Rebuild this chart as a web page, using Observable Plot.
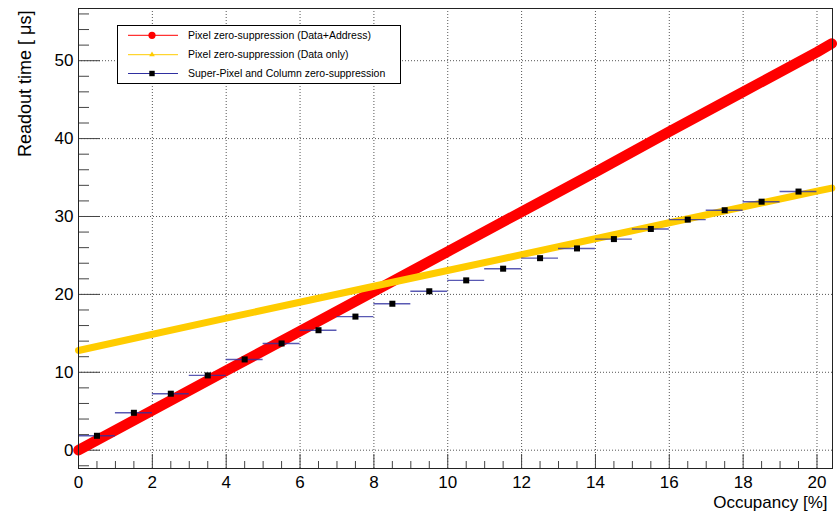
<!DOCTYPE html>
<html>
<head>
<meta charset="utf-8">
<script src="https://cdn.jsdelivr.net/npm/d3@7"></script>
<script src="https://cdn.jsdelivr.net/npm/@observablehq/plot@0.6"></script>
<style>
  html, body { margin: 0; padding: 0; background: #fff; }
  #chart { width: 838px; height: 512px; }
</style>
</head>
<body>
<div id="chart"></div>
<script>
// ---- data ----
const redOcc   = [0, 2, 4, 6, 8, 10, 12, 14, 16, 18, 20, 20.4];
const redTime  = [0, 5.1, 10.2, 15.3, 20.4, 25.5, 30.6, 35.7, 40.9, 46.0, 51.1, 52.2];
const yelOcc   = [0, 4, 8, 12, 16, 20, 20.4];
const yelTime  = [12.8, 16.95, 21.05, 25.1, 29.2, 33.25, 33.65];
const spOcc    = [0.5, 1.5, 2.5, 3.5, 4.5, 5.5, 6.5, 7.5, 8.5, 9.5, 10.5, 11.5, 12.5, 13.5, 14.5, 15.5, 16.5, 17.5, 18.5, 19.5];
const spTime   = [1.85, 4.8, 7.25, 9.6, 11.65, 13.7, 15.4, 17.15, 18.8, 20.4, 21.8, 23.3, 24.65, 25.9, 27.1, 28.4, 29.6, 30.8, 31.9, 33.2];
const spHalfWidth = 0.5;
const xMajor = [0, 2, 4, 6, 8, 10, 12, 14, 16, 18, 20];
const xMinor = d3.range(0.5, 20.01, 0.5).filter(v => v % 2 !== 0);
const yMajor = [0, 10, 20, 30, 40, 50];
const yMinor = d3.range(-2, 56.01, 2).filter(v => v % 10 !== 0);
const legendLabels = [
  "Pixel zero-suppression (Data+Address)",
  "Pixel zero-suppression (Data only)",
  "Super-Pixel and Column zero-suppression"
];
const xTitle = "Occupancy [%]";
const yTitle = "Readout time [ μs]";

// ---- tables ----
const red = redOcc.map((x, i) => ({x, t: redTime[i]}));
const yel = yelOcc.map((x, i) => ({x, t: yelTime[i]}));
const sp  = spOcc.map((x, i) => ({x, t: spTime[i]}));

const W = 838, H = 512;
const mT = 8, mR = 6, mB = 44, mL = 78;
const pw = W - mL - mR, ph = H - mT - mB;
const font = "'Liberation Sans', Arial, Helvetica, sans-serif";

const chart = Plot.plot({
  width: W, height: H,
  marginTop: mT, marginRight: mR, marginBottom: mB, marginLeft: mL,
  style: {fontFamily: font, fontSize: "17px", background: "#fff", color: "#000", overflow: "visible"},
  x: {domain: [0, 20.42], ticks: xMajor, tickSize: 0, tickPadding: 7, label: null},
  y: {domain: [-2.35, 56.7], ticks: yMajor, tickSize: 0, tickPadding: 5, label: null},
  marks: [
    // grid
    Plot.ruleX(xMajor.filter(v => v > 0), {x: d => d, stroke: "#555", strokeWidth: 1, strokeDasharray: "1,2"}),
    Plot.ruleY(yMajor, {y: d => d, stroke: "#555", strokeWidth: 1, strokeDasharray: "1,2"}),
    // inward ticks
    Plot.tickX(xMinor, {x: d => d, insetTop: ph - 7, stroke: "#444"}),
    Plot.tickX(xMajor, {x: d => d, insetTop: ph - 14, stroke: "#444"}),
    Plot.tickY(yMinor, {y: d => d, insetRight: pw - 11, stroke: "#444"}),
    Plot.tickY(yMajor, {y: d => d, insetRight: pw - 22, stroke: "#444"}),
    // series
    Plot.line(red, {x: "x", y: "t", stroke: "#ff0000", strokeWidth: 10.5, strokeLinecap: "round", strokeLinejoin: "round"}),
    Plot.line(yel, {x: "x", y: "t", stroke: "#ffcc00", strokeWidth: 7, strokeLinecap: "round", strokeLinejoin: "round"}),
    Plot.ruleY(sp, {y: "t", x1: d => d.x - spHalfWidth, x2: d => d.x + spHalfWidth, stroke: "#2f2fa0", strokeWidth: 1.4, strokeOpacity: 0.8}),
    Plot.dot(sp, {x: "x", y: "t", symbol: "square", r: 3.4, fill: "#000", stroke: "none"}),
    Plot.frame({stroke: "#222", strokeWidth: 1}),
    // axis titles
    Plot.text([xTitle], {text: d => d, frameAnchor: "bottom-right", textAnchor: "end", lineAnchor: "middle", dx: -5, dy: 34.5, fontSize: 17}),
    Plot.text([yTitle], {text: d => d, frameAnchor: "top-left", textAnchor: "end", lineAnchor: "middle", rotate: -90, dx: -53, dy: 2, fontSize: 18})
  ]
});
document.getElementById("chart").appendChild(chart);

// ---- legend (ROOT TLegend style) ----
const svg = d3.select(chart);
const lg = svg.append("g").attr("font-family", font).attr("font-size", "10.5px").attr("text-anchor", "start");
lg.append("rect").attr("x", 117.5).attr("y", 25.5).attr("width", 283).attr("height", 58)
  .attr("fill", "#fff").attr("stroke", "#000").attr("stroke-width", 1);
const rows = [35.3, 54.7, 73.5];
const lcol = ["#ff0000", "#ffcc00", "#2f2fa0"];
rows.forEach((ry, i) => {
  lg.append("line").attr("x1", 128).attr("x2", 178).attr("y1", ry).attr("y2", ry)
    .attr("stroke", lcol[i]).attr("stroke-width", 1);
  if (i === 0) lg.append("circle").attr("cx", 152).attr("cy", ry).attr("r", 3.6).attr("fill", "#ff0000");
  if (i === 1) lg.append("path").attr("d", d3.symbol(d3.symbolTriangle, 14)()).attr("transform", `translate(152,${ry})`).attr("fill", "#ffcc00");
  if (i === 2) lg.append("rect").attr("x", 149.3).attr("y", ry - 2.7).attr("width", 5.4).attr("height", 5.4).attr("fill", "#000");
  lg.append("text").attr("x", 188).attr("y", ry).attr("dy", "0.35em").attr("text-anchor", "start").attr("fill", "#000").text(legendLabels[i]);
});
</script>
</body>
</html>
